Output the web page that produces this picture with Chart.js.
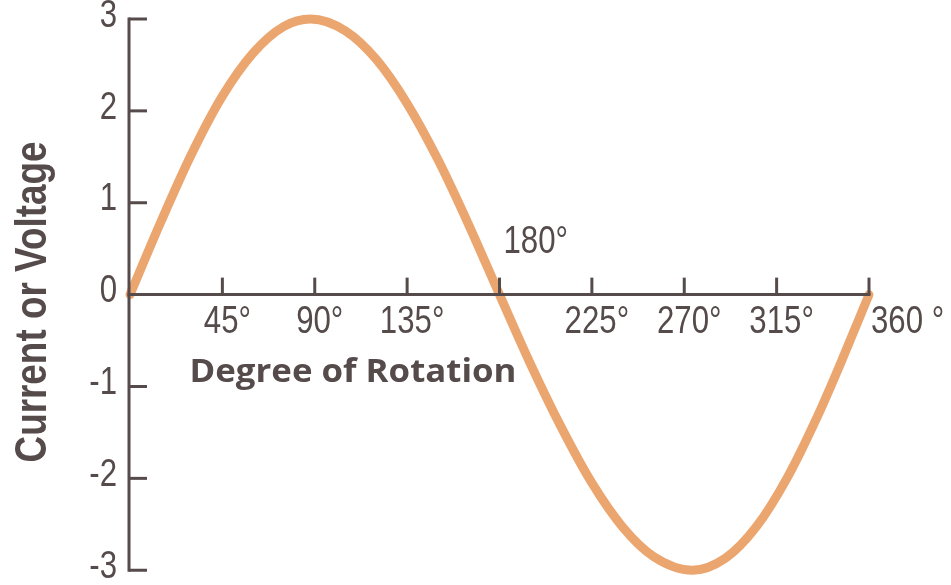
<!DOCTYPE html>
<html>
<head>
<meta charset="utf-8">
<script src="https://cdn.jsdelivr.net/npm/chart.js@4"></script>
<style>
html,body{margin:0;padding:0;background:#fff;}
canvas{display:block;}
</style>
</head>
<body>
<canvas id="c" width="951" height="585"></canvas>
<script>
// Data
const degrees = [0,15,30,45,60,75,88,105,120,135,150,165,180,195,210,225,240,255,274,290,305,320,335,348,360];
const values  = [0,0.79,1.53,2.16,2.63,2.92,3.0,2.87,2.56,2.08,1.47,0.76,0,-0.75,-1.44,-2.05,-2.53,-2.85,-3.0,-2.87,-2.53,-2.0,-1.32,-0.65,0];
const xTicks = [45,90,135,180,225,270,315,360];
const xTickLabels = ['45°','90°','135°','180°','225°','270°','315°','360 °'];
const yTicks = [3,2,1,0,-1,-2,-3];
const yTickLabels = ['3','2','1','0','-1','-2','-3'];
const xTitle = 'Degree of Rotation';
const yTitle = 'Current or Voltage';

const INK = '#564b4b';
const CURVE = '#eba670';

function fitText(ctx, text, x, y, font, targetW, align) {
  ctx.save();
  ctx.font = font;
  const w = ctx.measureText(text).width;
  const s = targetW / w;
  ctx.translate(x, y);
  ctx.scale(s, 1);
  ctx.textAlign = align || 'center';
  ctx.textBaseline = 'middle';
  ctx.fillText(text, 0, 0);
  ctx.restore();
}
function condText(ctx, text, x, y, align, sx) {
  ctx.save();
  ctx.translate(x, y);
  ctx.scale(sx, 1);
  ctx.textAlign = align;
  ctx.textBaseline = 'middle';
  ctx.fillText(text, 0, 0);
  ctx.restore();
}

const axesPlugin = {
  id: 'axesPlugin',
  beforeDraw(chart) {
    const ctx = chart.ctx;
    ctx.save();
    ctx.fillStyle = '#fff';
    ctx.fillRect(0, 0, chart.width, chart.height);
    ctx.restore();
  },
  afterDatasetsDraw(chart) {
    const ctx = chart.ctx;
    const xs = chart.scales.x, ys = chart.scales.y;
    const x0 = xs.getPixelForValue(0);
    const y0 = ys.getPixelForValue(0);
    const yTop = ys.getPixelForValue(3);
    const yBot = ys.getPixelForValue(-3);
    const xEnd = xs.getPixelForValue(360);
    ctx.save();
    ctx.strokeStyle = INK;
    ctx.fillStyle = INK;
    ctx.lineWidth = 3;
    ctx.lineCap = 'butt';
    // y axis line
    ctx.beginPath();
    ctx.moveTo(x0 - 1, yTop - 1.5);
    ctx.lineTo(x0 - 1, yBot + 1.5);
    ctx.stroke();
    // y ticks (pointing inward)
    yTicks.forEach(v => {
      if (v === 0) return;
      const py = ys.getPixelForValue(v);
      ctx.beginPath();
      ctx.moveTo(x0 - 1, py);
      ctx.lineTo(x0 + 17, py);
      ctx.stroke();
    });
    // x axis line at y=0
    ctx.beginPath();
    ctx.moveTo(x0 - 2.5, y0);
    ctx.lineTo(xEnd + 1.5, y0);
    ctx.stroke();
    // x ticks (pointing up)
    xTicks.forEach(v => {
      const px = xs.getPixelForValue(v);
      ctx.beginPath();
      ctx.moveTo(px, y0);
      ctx.lineTo(px, y0 - 17);
      ctx.stroke();
    });
    // tick labels
    ctx.font = '39px "Liberation Sans", Arial, sans-serif';
    const sx = 0.8;
    yTicks.forEach((v, i) => {
      const py = ys.getPixelForValue(v);
      condText(ctx, yTickLabels[i], x0 - 13, py - 3, 'right', sx);
    });
    xTicks.forEach((v, i) => {
      const px = xs.getPixelForValue(v);
      const lab = xTickLabels[i];
      if (v === 180) {
        condText(ctx, lab, px + 4, y0 - 52, 'left', sx);
      } else if (v === 360) {
        condText(ctx, lab, px + 2, y0 + 28, 'left', sx);
      } else {
        condText(ctx, lab, px + 5, y0 + 28, 'center', sx);
      }
    });
    // axis titles
    fitText(ctx, xTitle, 353, 373, 'bold 32px "Open Sans", "Liberation Sans", sans-serif', 327, 'center');
    ctx.save();
    ctx.translate(34, 302);
    ctx.rotate(-Math.PI / 2);
    fitText(ctx, yTitle, 0, 0, 'bold 45px "Liberation Sans", Arial, sans-serif', 321, 'center');
    ctx.restore();
    ctx.restore();
  }
};

new Chart(document.getElementById('c'), {
  type: 'line',
  data: {
    datasets: [{
      data: degrees.map((d, i) => ({ x: d, y: values[i] })),
      borderColor: CURVE,
      borderWidth: 9,
      pointRadius: 0,
      cubicInterpolationMode: 'monotone',
      borderCapStyle: 'round',
      fill: false,
      clip: false
    }]
  },
  options: {
    responsive: false,
    animation: false,
    events: [],
    layout: { padding: { left: 130, right: 82, top: 19, bottom: 12 } },
    plugins: { legend: { display: false }, tooltip: { enabled: false } },
    scales: {
      x: { type: 'linear', min: 0, max: 360, display: false },
      y: { type: 'linear', min: -3.03, max: 3, display: false }
    }
  },
  plugins: [axesPlugin]
});
</script>
</body>
</html>
